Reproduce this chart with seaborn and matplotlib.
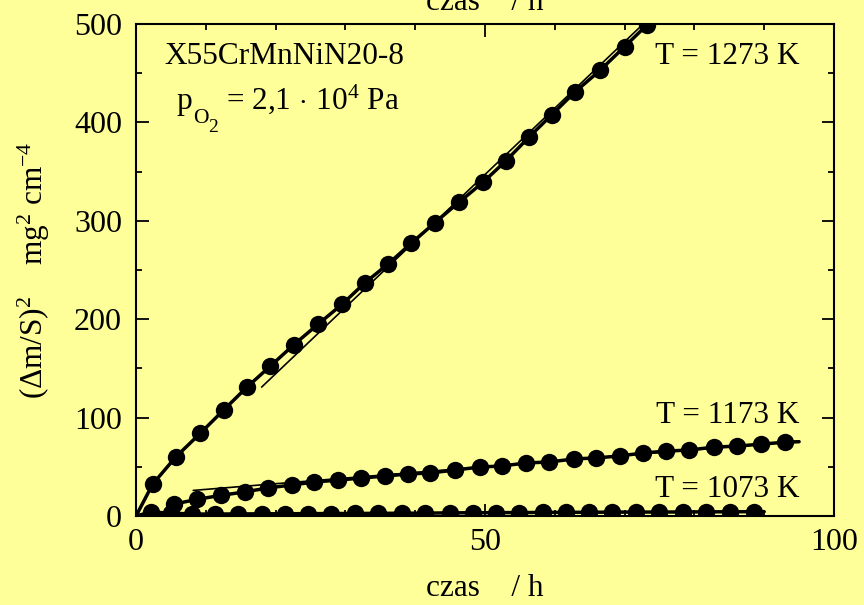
import matplotlib
matplotlib.use("Agg")
import matplotlib.pyplot as plt
import seaborn as sns
from matplotlib.ticker import MultipleLocator

sns.set_theme(style="ticks")
plt.rcParams['font.family'] = ['Liberation Serif', 'DejaVu Serif']
plt.rcParams['mathtext.fontset'] = 'custom'
plt.rcParams['mathtext.rm'] = 'Liberation Serif'
plt.rcParams['mathtext.it'] = 'Liberation Serif:italic'
plt.rcParams['mathtext.bf'] = 'Liberation Serif:bold'

# ---- data ----
t_1273 = [0, 2.4, 5.7, 9.2, 12.6, 15.9, 19.2, 22.6, 26.1, 29.5, 32.8, 36.1, 39.4,
          42.8, 46.3, 49.7, 53.0, 56.3, 59.6, 62.9, 66.5, 70.0, 73.2]
y_1273 = [0, 32.5, 60, 84, 108, 131, 152, 174, 195, 215, 237, 256, 277,
          298, 319, 339, 361, 385, 408, 431, 453, 477, 499]
fit_t_1273 = [18.0, 74.0]
fit_y_1273 = [131, 509]

t_1173 = [3.5, 5.4, 8.8, 12.2, 15.6, 18.9, 22.3, 25.5, 29.0, 32.3, 35.7, 39.0, 42.1,
          45.7, 49.3, 52.4, 55.9, 59.2, 62.8, 65.9, 69.3, 72.6, 76.0, 79.2, 82.8,
          86.1, 89.5, 93.0, 95.0]
y_1173 = [0, 12, 17, 21, 24.5, 28.5, 31.5, 34.5, 36.5, 38.6, 40.6, 42.7, 43.7,
          46.7, 49.8, 50.8, 53.9, 54.9, 58, 59, 61, 64, 66, 67, 70,
          71, 73, 75, 75.5]
fit_t_1173 = [8.2, 95.0]
fit_y_1173 = [26, 76]

t_1073 = [0, 2.1, 5.0, 8.0, 11.3, 14.6, 18.0, 21.3, 24.6, 28.0, 31.4, 34.7, 38.1, 41.4,
          45.0, 48.3, 51.6, 54.9, 58.3, 61.6, 64.9, 68.2, 71.6, 74.9, 78.4, 81.7,
          85.1, 88.5, 90.0]
y_1073 = [0, 4.0, 3.0, 2.0, 2.0, 2.1, 2.2, 2.3, 2.4, 2.5, 2.6, 2.7, 2.8, 2.9,
          3.2, 3.3, 3.4, 3.5, 3.6, 3.7, 3.8, 3.9, 4.0, 4.0, 4.1, 4.2,
          4.3, 4.4, 4.4]
fit_t_1073 = [8.0, 90.0]
fit_y_1073 = [2.0, 4.5]

labels = ["T = 1273 K", "T = 1173 K", "T = 1073 K"]

bg = "#FFFF99"
fig = plt.figure(figsize=(8.64, 6.05), dpi=100, facecolor=bg)
ax = fig.add_axes([136/864, 1 - 516/605, 698/864, 492/605])
ax.set_facecolor(bg)

ms = 12.5
# 1273 K
sns.lineplot(x=t_1273, y=y_1273, ax=ax, color="black", lw=2.5, sort=False,
             estimator=None, marker="o", markersize=ms, markeredgewidth=0,
             markevery=list(range(1, len(t_1273))))
sns.lineplot(x=fit_t_1273, y=fit_y_1273, ax=ax, color="black", lw=1.2, estimator=None)
# 1173 K
sns.lineplot(x=t_1173, y=y_1173, ax=ax, color="black", lw=2.5, sort=False,
             estimator=None, marker="o", markersize=ms, markeredgewidth=0,
             markevery=list(range(1, len(t_1173) - 1)))
sns.lineplot(x=fit_t_1173, y=fit_y_1173, ax=ax, color="black", lw=1.2, estimator=None)
# 1073 K
sns.lineplot(x=t_1073, y=y_1073, ax=ax, color="black", lw=2.5, sort=False,
             estimator=None, marker="o", markersize=ms, markeredgewidth=0,
             markevery=list(range(1, len(t_1073) - 1)))
sns.lineplot(x=fit_t_1073, y=fit_y_1073, ax=ax, color="black", lw=1.2, estimator=None)

ax.set_xlim(0, 100)
ax.set_ylim(0, 500)
ax.xaxis.set_major_locator(MultipleLocator(50))
ax.xaxis.set_minor_locator(MultipleLocator(10))
ax.yaxis.set_major_locator(MultipleLocator(100))
ax.yaxis.set_minor_locator(MultipleLocator(50))
ax.tick_params(which="both", direction="in", top=True, right=True,
               colors="black", labelsize=23, width=1.3)
ax.tick_params(axis="y", pad=10)
ax.tick_params(axis="x", pad=9)
ax.tick_params(which="major", length=9)
ax.tick_params(which="minor", length=4.5)
for s in ax.spines.values():
    s.set_color("black")
    s.set_linewidth(1.5)

fs = 22.5
ax.set_xlabel("czas    / h", fontsize=fs, color="black")
ax.xaxis.set_label_coords(0.5, -0.118)
ax.set_ylabel(r"(Δm/S)$^2$    mg$^2$ cm$^{-4}$", fontsize=fs, color="black")
ax.yaxis.set_label_coords(-0.12, 0.5)

fig.text(485/864, 1 - 10/605, "czas    / h", fontsize=fs, ha="center",
         va="baseline", color="black")

ax.text(0.213, 0.933, "X55CrMnNiN20-8", transform=ax.transAxes, fontsize=fs,
        ha="center", va="center", color="black")


def axfrac(px, py):
    return (px - 136) / 698, (516 - py) / 492


# p_O2 = 2,1 · 10^4 Pa, built from pieces for a large, deep subscript
pieces = [("p", 176, 109, fs),
          ("O", 193, 123, 15.5),
          ("2", 208, 132, 14),
          (r"= 2,1$\,\cdot\,$10$^4$ Pa", 226, 109, fs)]
for s, px, py, size in pieces:
    fx, fy = axfrac(px, py)
    ax.text(fx, fy, s, transform=ax.transAxes, fontsize=size, ha="left",
            va="baseline", color="black")

ax.text(0.951, 0.933, labels[0], transform=ax.transAxes, fontsize=fs, ha="right", va="center", color="black")
ax.text(0.951, 0.205, labels[1], transform=ax.transAxes, fontsize=fs, ha="right", va="center", color="black")
ax.text(0.951, 0.053, labels[2], transform=ax.transAxes, fontsize=fs, ha="right", va="center", color="black")

fig.savefig("out.png", dpi=100, facecolor=bg)
